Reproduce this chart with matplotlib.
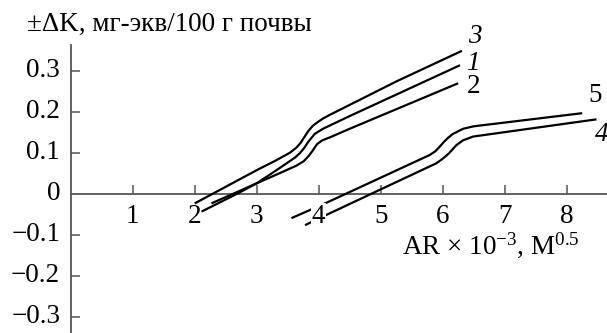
import matplotlib
matplotlib.use("Agg")
import matplotlib.pyplot as plt

plt.rcParams["font.family"] = ["Liberation Serif", "DejaVu Serif"]
plt.rcParams["mathtext.fontset"] = "custom"
plt.rcParams["mathtext.rm"] = "Liberation Serif"
plt.rcParams["mathtext.it"] = "Liberation Serif:italic"

# curves (AR x 10^-3 vs +-dK)
x3 = [2.00, 3.00, 3.30, 3.54, 3.64, 3.71, 3.77, 3.83, 3.91, 4.00, 4.07, 4.18, 5.26, 6.31]
y3 = [-0.024, 0.057, 0.080, 0.100, 0.112, 0.124, 0.138, 0.152, 0.166, 0.176, 0.183, 0.192, 0.274, 0.348]

x1 = [2.11, 2.69, 3.00, 3.30, 3.62, 3.70, 3.77, 3.83, 3.94, 4.07, 4.18, 4.50, 6.28]
y1 = [-0.044, 0.000, 0.025, 0.055, 0.088, 0.099, 0.112, 0.126, 0.146, 0.158, 0.166, 0.189, 0.313]

x2 = [2.27, 3.00, 3.30, 3.64, 3.76, 3.84, 3.91, 3.97, 4.05, 4.11, 4.18, 4.50, 6.25]
y2 = [-0.024, 0.025, 0.045, 0.068, 0.079, 0.092, 0.106, 0.120, 0.129, 0.133, 0.137, 0.158, 0.269]

x5 = [3.56, 4.16, 5.79, 5.88, 5.95, 6.02, 6.08, 6.16, 6.33, 6.50, 8.25]
y5 = [-0.060, -0.020, 0.094, 0.103, 0.114, 0.126, 0.135, 0.145, 0.158, 0.164, 0.196]

x4 = [3.78, 4.18, 5.90, 6.00, 6.10, 6.16, 6.22, 6.33, 6.49, 8.48]
y4 = [-0.077, -0.048, 0.074, 0.085, 0.098, 0.108, 0.118, 0.130, 0.139, 0.181]

curves = [(x3, y3), (x1, y1), (x2, y2), (x5, y5), (x4, y4)]

curve_labels = ["3", "1", "2", "5", "4"]
label_x = [6.52, 6.49, 6.49, 8.46, 8.57]
label_y = [0.382, 0.318, 0.260, 0.240, 0.143]
label_style = ["italic", "italic", "normal", "normal", "italic"]

xticks = [1, 2, 3, 4, 5, 6, 7, 8]
yticks = [-0.3, -0.2, -0.1, 0.1, 0.2, 0.3]

fs = 19.5

fig = plt.figure(figsize=(6.07, 3.33), dpi=100)
ax = fig.add_axes([0, 0, 1, 1])
ax.set_xlim(-1.14, 8.65)
ax.set_ylim(-0.340, 0.472)

axis_color = "#555555"
ax.spines["left"].set_position(("data", 0))
ax.spines["bottom"].set_position(("data", 0))
ax.spines["right"].set_visible(False)
ax.spines["top"].set_visible(False)
ax.spines["left"].set_bounds(-0.340, 0.362)
ax.spines["bottom"].set_bounds(0, 8.65)
for s in ("left", "bottom"):
    ax.spines[s].set_color(axis_color)
    ax.spines[s].set_linewidth(1.3)
    ax.spines[s].set_zorder(1)
ax.patch.set_visible(False)

for xs, ys in curves:
    ax.plot(xs, ys, color="black", lw=1.6, zorder=2, solid_capstyle="butt")

ax.set_xticks(xticks)
ax.set_xticklabels([])
ax.set_yticks(yticks)
ax.set_yticklabels([])
ax.tick_params(axis="both", direction="in", length=6.5, width=1.1, color=axis_color)

# tick labels as text so the "4" can blank out the curves behind it
for v in xticks:
    t = ax.text(v, -0.056, str(v), ha="center", va="center", fontsize=fs, zorder=5)
    if v == 4:
        t.set_bbox(dict(facecolor="white", edgecolor="none", pad=0.5))
for v in yticks + [0]:
    lab = ("%.1f" % v).replace("-", "\u2212") if v != 0 else "0"
    ax.text(-0.17, v, lab, ha="right", va="center", fontsize=fs)

for s, lx, ly, st in zip(curve_labels, label_x, label_y, label_style):
    ax.text(lx, ly, s, ha="center", va="center", fontsize=fs, style=st)

fig.text(27 / 607, 1 - 24 / 333, "\u00b1\u0394K, мг-экв/100 г почвы",
         ha="left", va="center", fontsize=fs)
fig.text(491 / 607, 1 - 245 / 333, r"AR $\times$ 10$^{-3}$, M$^{0.5}$",
         ha="center", va="center", fontsize=fs)

fig.savefig("out.png", dpi=100)
